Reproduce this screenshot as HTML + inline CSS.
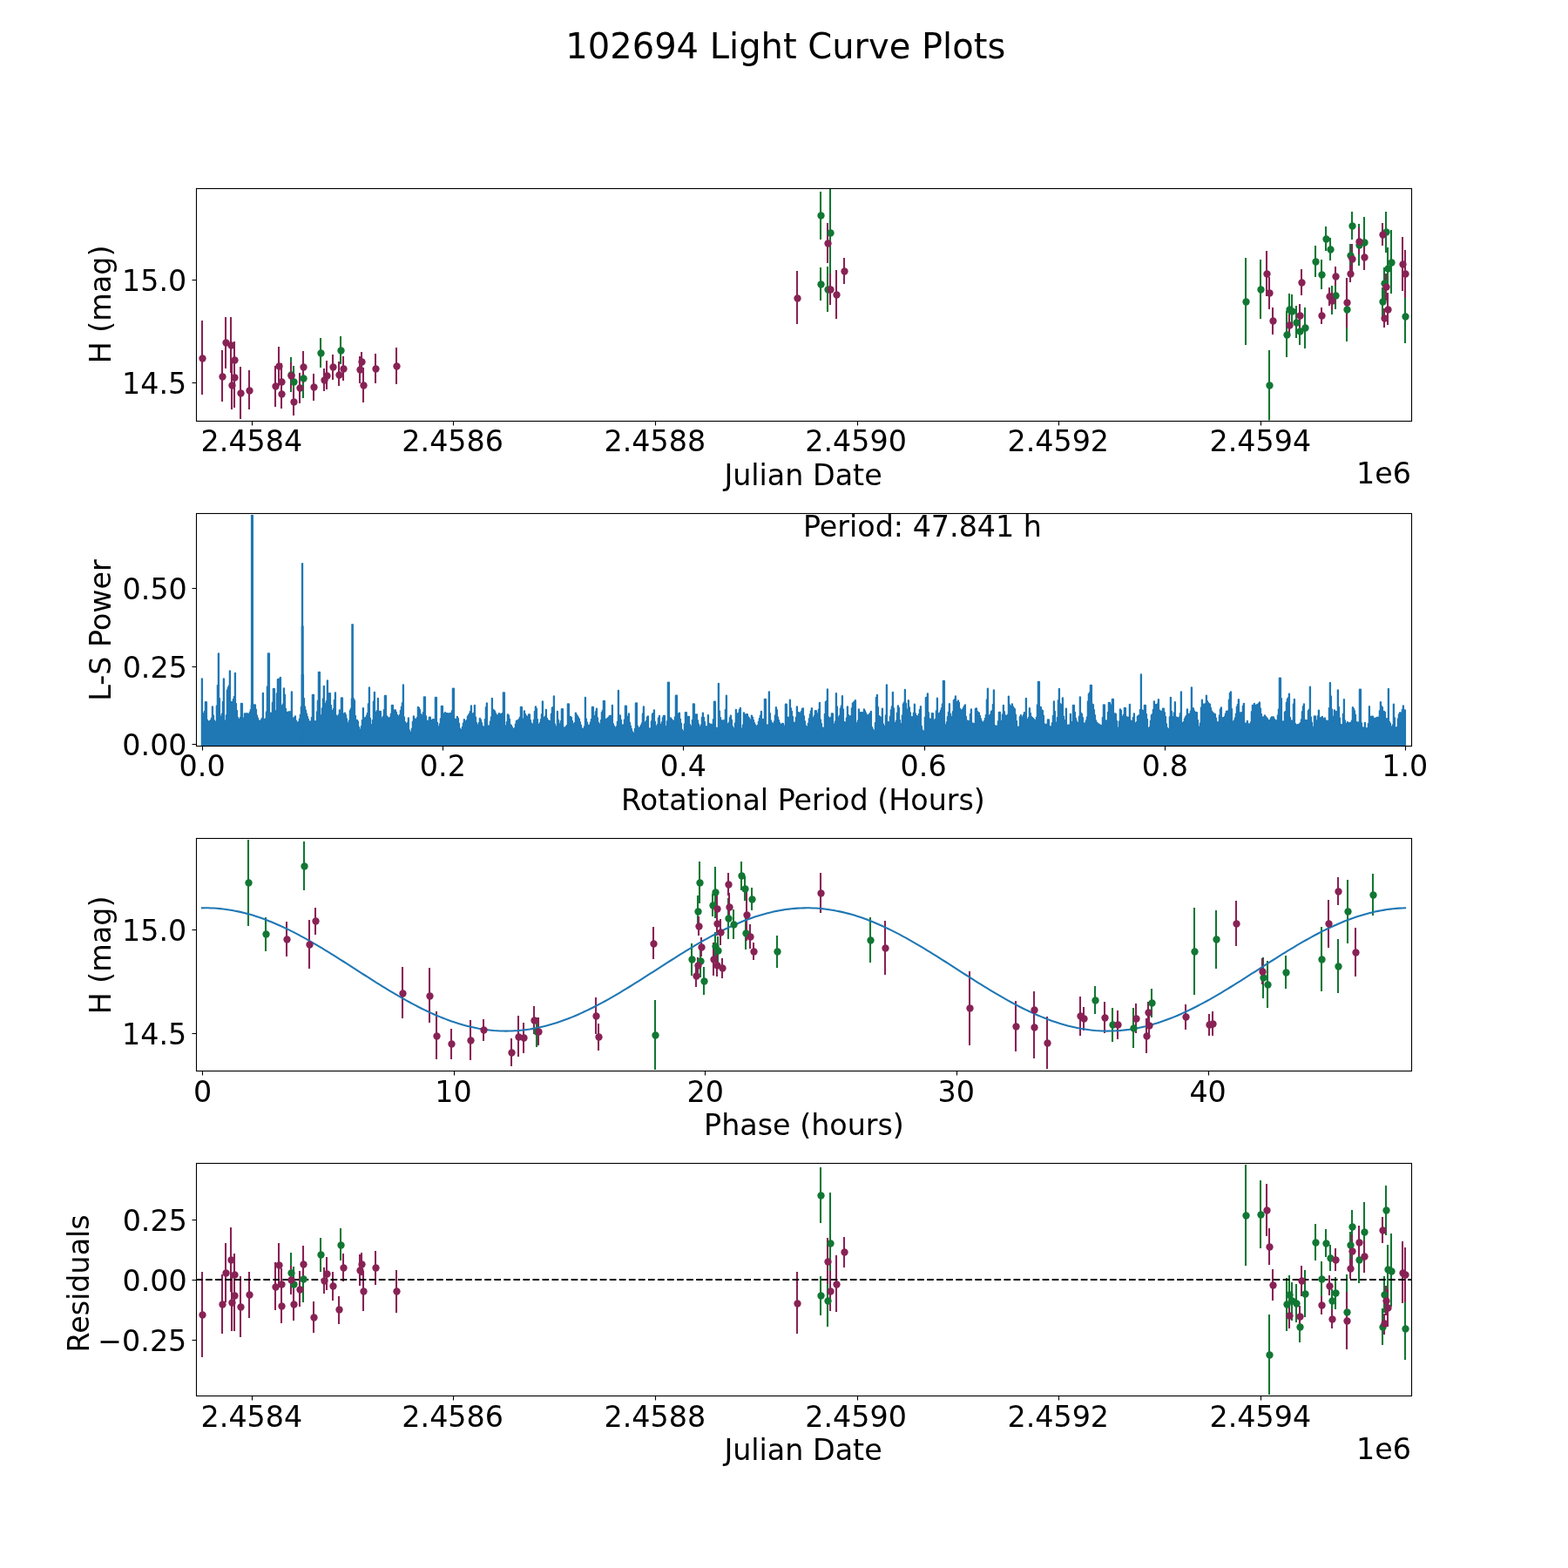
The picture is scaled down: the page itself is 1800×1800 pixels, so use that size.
<!DOCTYPE html>
<html lang="en">
<head>
<meta charset="utf-8">
<title>102694 Light Curve Plots</title>
<style>html,body{margin:0;padding:0;background:#ffffff;}body{width:1800px;height:1800px;overflow:hidden;}svg{display:block;}</style>
</head>
<body>
<svg xmlns="http://www.w3.org/2000/svg" width="1800" height="1800" viewBox="0 0 1800 1800">
<rect x="0" y="0" width="1800" height="1800" fill="#ffffff"/>
<clipPath id="c0"><rect x="225.0" y="216.000" width="1395.0" height="266.538"/></clipPath>
<clipPath id="c1"><rect x="225.0" y="589.077" width="1395.0" height="266.538"/></clipPath>
<clipPath id="c2"><rect x="225.0" y="962.154" width="1395.0" height="266.538"/></clipPath>
<clipPath id="c3"><rect x="225.0" y="1335.231" width="1395.0" height="266.538"/></clipPath>
<text x="901.79" y="67.08" font-family="'DejaVu Sans', 'Liberation Sans', sans-serif" font-size="40.0000px" text-anchor="middle" fill="#000000">102694 Light Curve Plots</text>
<g clip-path="url(#c0)">
<path d="M334.0 410.0V450.0M337.0 420.0V456.0M348.0 412.0V457.0M368.0 388.0V422.0M391.0 386.0V418.0M942.0 220.0V275.0M953.0 213.0V317.0M942.0 307.0V345.0M950.0 306.0V358.0M1430.0 296.0V396.0M1447.0 298.0V366.0M1457.0 402.0V483.0M1477.0 357.0V410.0M1480.0 337.0V373.0M1483.0 338.0V376.0M1488.0 351.0V388.0M1492.0 365.0V396.0M1498.0 353.0V400.0M1510.0 282.0V318.0M1517.0 298.0V332.0M1522.0 260.0V288.0M1527.0 273.0V299.0M1529.0 328.0V361.0M1533.0 324.0V355.0M1546.0 319.0V392.0M1550.0 280.0V305.0M1552.0 243.0V275.0M1560.0 257.0V305.0M1566.0 249.0V308.0M1591.0 243.0V290.0M1597.0 264.0V337.0M1593.0 284.0V333.0M1589.0 307.0V343.0M1587.0 330.0V363.0M1613.0 333.0V394.0" stroke="#117733" stroke-width="2.083" fill="none"/>
<path d="M232.0 368.0V453.0M255.0 402.0V461.0M259.0 364.0V423.0M265.0 364.0V428.0M269.0 392.0V435.0M269.0 399.0V468.0M266.0 415.0V470.0M276.0 421.0V481.0M286.0 425.0V470.0M316.0 420.0V467.0M320.0 398.0V443.0M323.0 417.0V460.0M323.0 437.0V469.0M334.0 416.0V446.0M337.0 446.0V477.0M344.0 428.0V463.0M348.0 403.0V440.0M360.0 429.0V460.0M372.0 423.0V449.0M375.0 414.0V447.0M382.0 407.0V436.0M389.0 415.0V443.0M394.0 409.0V437.0M413.0 409.0V440.0M415.0 404.0V427.0M417.0 422.0V462.0M431.0 406.0V440.0M455.0 399.0V441.0M915.0 311.0V372.0M950.0 256.0V302.0M953.0 314.0V350.0M960.0 310.0V366.0M969.0 296.0V326.0M1454.0 288.0V340.0M1457.0 318.0V355.0M1461.0 353.0V384.0M1480.0 361.0V386.0M1492.0 349.0V376.0M1494.0 309.0V339.0M1517.0 353.0V372.0M1526.0 330.0V351.0M1529.0 335.0V356.0M1533.0 306.0V328.0M1546.0 319.0V376.0M1552.0 280.0V315.0M1550.0 304.0V324.0M1560.0 261.0V292.0M1566.0 282.0V310.0M1587.0 256.0V282.0M1591.0 314.0V345.0M1593.0 336.0V373.0M1589.0 354.0V376.0M1610.0 272.0V334.0M1613.0 287.0V342.0" stroke="#882255" stroke-width="2.083" fill="none"/>
<g fill="#117733"><circle cx="334.5" cy="430.5" r="4.167"/><circle cx="337.5" cy="438.5" r="4.167"/><circle cx="348.5" cy="434.5" r="4.167"/><circle cx="368.5" cy="405.5" r="4.167"/><circle cx="391.5" cy="402.5" r="4.167"/><circle cx="942.5" cy="247.5" r="4.167"/><circle cx="953.5" cy="267.5" r="4.167"/><circle cx="942.5" cy="326.5" r="4.167"/><circle cx="950.5" cy="332.5" r="4.167"/><circle cx="1430.5" cy="346.5" r="4.167"/><circle cx="1447.5" cy="332.5" r="4.167"/><circle cx="1457.5" cy="442.5" r="4.167"/><circle cx="1477.5" cy="384.5" r="4.167"/><circle cx="1480.5" cy="355.5" r="4.167"/><circle cx="1483.5" cy="357.5" r="4.167"/><circle cx="1488.5" cy="370.5" r="4.167"/><circle cx="1492.5" cy="380.5" r="4.167"/><circle cx="1498.5" cy="376.5" r="4.167"/><circle cx="1510.5" cy="300.5" r="4.167"/><circle cx="1517.5" cy="315.5" r="4.167"/><circle cx="1522.5" cy="274.5" r="4.167"/><circle cx="1527.5" cy="286.5" r="4.167"/><circle cx="1529.5" cy="344.5" r="4.167"/><circle cx="1533.5" cy="339.5" r="4.167"/><circle cx="1546.5" cy="355.5" r="4.167"/><circle cx="1550.5" cy="293.5" r="4.167"/><circle cx="1552.5" cy="259.5" r="4.167"/><circle cx="1560.5" cy="281.5" r="4.167"/><circle cx="1566.5" cy="278.5" r="4.167"/><circle cx="1591.5" cy="266.5" r="4.167"/><circle cx="1597.5" cy="301.5" r="4.167"/><circle cx="1593.5" cy="308.5" r="4.167"/><circle cx="1589.5" cy="325.5" r="4.167"/><circle cx="1587.5" cy="346.5" r="4.167"/><circle cx="1613.5" cy="363.5" r="4.167"/></g>
<g fill="#882255"><circle cx="232.5" cy="411.5" r="4.167"/><circle cx="255.5" cy="432.5" r="4.167"/><circle cx="259.5" cy="393.5" r="4.167"/><circle cx="265.5" cy="396.5" r="4.167"/><circle cx="269.5" cy="413.5" r="4.167"/><circle cx="269.5" cy="433.5" r="4.167"/><circle cx="266.5" cy="442.5" r="4.167"/><circle cx="276.5" cy="451.5" r="4.167"/><circle cx="286.5" cy="448.5" r="4.167"/><circle cx="316.5" cy="443.5" r="4.167"/><circle cx="320.5" cy="420.5" r="4.167"/><circle cx="323.5" cy="438.5" r="4.167"/><circle cx="323.5" cy="452.5" r="4.167"/><circle cx="334.5" cy="431.5" r="4.167"/><circle cx="337.5" cy="461.5" r="4.167"/><circle cx="344.5" cy="445.5" r="4.167"/><circle cx="348.5" cy="421.5" r="4.167"/><circle cx="360.5" cy="444.5" r="4.167"/><circle cx="372.5" cy="436.5" r="4.167"/><circle cx="375.5" cy="431.5" r="4.167"/><circle cx="382.5" cy="421.5" r="4.167"/><circle cx="389.5" cy="430.5" r="4.167"/><circle cx="394.5" cy="423.5" r="4.167"/><circle cx="413.5" cy="424.5" r="4.167"/><circle cx="415.5" cy="415.5" r="4.167"/><circle cx="417.5" cy="442.5" r="4.167"/><circle cx="431.5" cy="423.5" r="4.167"/><circle cx="455.5" cy="420.5" r="4.167"/><circle cx="915.5" cy="342.5" r="4.167"/><circle cx="950.5" cy="279.5" r="4.167"/><circle cx="953.5" cy="332.5" r="4.167"/><circle cx="960.5" cy="338.5" r="4.167"/><circle cx="969.5" cy="311.5" r="4.167"/><circle cx="1454.5" cy="314.5" r="4.167"/><circle cx="1457.5" cy="336.5" r="4.167"/><circle cx="1461.5" cy="368.5" r="4.167"/><circle cx="1480.5" cy="373.5" r="4.167"/><circle cx="1492.5" cy="362.5" r="4.167"/><circle cx="1494.5" cy="324.5" r="4.167"/><circle cx="1517.5" cy="362.5" r="4.167"/><circle cx="1526.5" cy="340.5" r="4.167"/><circle cx="1529.5" cy="345.5" r="4.167"/><circle cx="1533.5" cy="317.5" r="4.167"/><circle cx="1546.5" cy="347.5" r="4.167"/><circle cx="1552.5" cy="297.5" r="4.167"/><circle cx="1550.5" cy="314.5" r="4.167"/><circle cx="1560.5" cy="277.5" r="4.167"/><circle cx="1566.5" cy="295.5" r="4.167"/><circle cx="1587.5" cy="269.5" r="4.167"/><circle cx="1591.5" cy="329.5" r="4.167"/><circle cx="1593.5" cy="355.5" r="4.167"/><circle cx="1589.5" cy="365.5" r="4.167"/><circle cx="1610.5" cy="303.5" r="4.167"/><circle cx="1613.5" cy="314.5" r="4.167"/></g>
</g>
<path d="M289.5 483.50V488.50M520.5 483.50V488.50M752.5 483.50V488.50M984.5 483.50V488.50M1215.5 483.50V488.50M1447.5 483.50V488.50M225.50 321.5H220.50M225.50 439.5H220.50" stroke="#000000" stroke-width="1.111" fill="none"/>
<path d="M225.5 215.95V484.05M1620.5 215.95V484.05M224.95 216.5H1621.05M224.95 483.5H1621.05" stroke="#000000" stroke-width="1.111" fill="none"/>
<path d="M221.00 320.5H225.00M221.00 322.5H225.00M221.00 438.5H225.00M221.00 440.5H225.00M225.00 215.5H1621.00M226.00 217.5H1620.00M226.00 482.5H1620.00M225.00 484.5H1621.00" stroke="#000000" stroke-opacity="0.056" stroke-width="1" fill="none"/>
<text x="288.92" y="517.55" font-family="'DejaVu Sans', 'Liberation Sans', sans-serif" font-size="33.3333px" text-anchor="middle" fill="#000000">2.4584</text>
<text x="519.67" y="517.55" font-family="'DejaVu Sans', 'Liberation Sans', sans-serif" font-size="33.3333px" text-anchor="middle" fill="#000000">2.4586</text>
<text x="751.86" y="517.52" font-family="'DejaVu Sans', 'Liberation Sans', sans-serif" font-size="33.3333px" text-anchor="middle" fill="#000000">2.4588</text>
<text x="982.64" y="517.56" font-family="'DejaVu Sans', 'Liberation Sans', sans-serif" font-size="33.3333px" text-anchor="middle" fill="#000000">2.4590</text>
<text x="1214.78" y="518.13" font-family="'DejaVu Sans', 'Liberation Sans', sans-serif" font-size="33.3333px" text-anchor="middle" fill="#000000">2.4592</text>
<text x="1446.83" y="517.57" font-family="'DejaVu Sans', 'Liberation Sans', sans-serif" font-size="33.3333px" text-anchor="middle" fill="#000000">2.4594</text>
<text x="214.33" y="334.02" font-family="'DejaVu Sans', 'Liberation Sans', sans-serif" font-size="33.3333px" text-anchor="end" fill="#000000">15.0</text>
<text x="214.34" y="452.13" font-family="'DejaVu Sans', 'Liberation Sans', sans-serif" font-size="33.3333px" text-anchor="end" fill="#000000">14.5</text>
<text x="922.02" y="556.74" font-family="'DejaVu Sans', 'Liberation Sans', sans-serif" font-size="33.3333px" text-anchor="middle" fill="#000000">Julian Date</text>
<text x="127.21" y="349.43" font-family="'DejaVu Sans', 'Liberation Sans', sans-serif" font-size="33.3333px" text-anchor="middle" fill="#000000" transform="rotate(-90 127.21 349.43)">H (mag)</text>
<text x="1620.00" y="554.73" font-family="'DejaVu Sans', 'Liberation Sans', sans-serif" font-size="33.3333px" text-anchor="end" fill="#000000">1e6</text>
<clipPath id="c1b"><rect x="225.0" y="589.077" width="1395.0" height="267.138"/></clipPath>
<g clip-path="url(#c1b)">
<path d="M231.9 779.5V856.3M232.9 819.2V856.3M233.9 819.2V856.3M234.9 817.0V856.3M235.9 806.2V856.3M236.9 806.2V856.3M237.9 826.6V856.3M238.9 828.5V856.3M239.9 828.5V856.3M240.9 827.9V856.3M241.9 826.9V856.3M242.9 824.6V856.3M243.9 811.5V856.3M244.9 821.5V856.3M245.9 827.2V856.3M246.9 828.6V856.3M247.9 828.6V856.3M248.9 810.3V856.3M249.9 786.8V856.3M250.9 750.3V856.3M251.9 802.0V856.3M252.9 822.4V856.3M253.9 822.4V856.3M254.9 819.6V856.3M255.9 805.9V856.3M256.9 779.5V856.3M257.9 827.3V856.3M258.9 827.3V856.3M259.9 821.1V856.3M260.9 792.4V856.3M261.9 789.5V856.3M262.9 787.3V856.3M263.9 770.3V856.3M264.9 806.0V856.3M265.9 806.0V856.3M266.9 806.0V856.3M267.9 802.9V856.3M268.9 799.8V856.3M269.9 772.8V856.3M270.9 808.0V856.3M271.9 816.0V856.3M272.9 824.0V856.3M273.9 826.0V856.3M274.9 826.0V856.3M275.9 824.0V856.3M276.9 807.8V856.3M277.9 807.8V856.3M278.9 824.3V856.3M279.9 824.3V856.3M280.9 819.5V856.3M281.9 819.5V856.3M282.9 819.5V856.3M283.9 819.5V856.3M284.9 819.9V856.3M285.9 819.9V856.3M286.9 817.7V856.3M287.9 814.8V856.3M288.9 809.5V856.3M289.9 809.5V856.3M290.9 809.5V856.3M291.9 809.5V856.3M292.9 809.5V856.3M293.9 814.6V856.3M294.9 821.4V856.3M295.9 824.5V856.3M296.9 827.5V856.3M297.9 827.6V856.3M298.9 827.6V856.3M299.9 826.3V856.3M300.9 824.7V856.3M301.9 795.8V856.3M302.9 825.8V856.3M303.9 825.8V856.3M304.9 825.3V856.3M305.9 817.5V856.3M306.9 788.5V856.3M307.9 750.3V856.3M308.9 750.3V856.3M309.9 818.7V856.3M310.9 818.7V856.3M311.9 818.7V856.3M312.9 806.7V856.3M313.9 790.8V856.3M314.9 790.8V856.3M315.9 816.1V856.3M316.9 816.1V856.3M317.9 796.2V856.3M318.9 780.2V856.3M319.9 779.9V856.3M320.9 779.5V856.3M321.9 777.8V856.3M322.9 810.1V856.3M323.9 810.1V856.3M324.9 808.5V856.3M325.9 790.3V856.3M326.9 797.6V856.3M327.9 813.6V856.3M328.9 817.8V856.3M329.9 817.8V856.3M330.9 817.7V856.3M331.9 817.5V856.3M332.9 817.3V856.3M333.9 817.1V856.3M334.9 794.5V856.3M335.9 824.3V856.3M336.9 824.3V856.3M337.9 824.1V856.3M338.9 822.5V856.3M339.9 827.4V856.3M340.9 829.5V856.3M341.9 829.5V856.3M342.9 828.7V856.3M343.9 825.4V856.3M344.9 820.7V856.3M345.9 811.7V856.3M346.9 774.8V856.3M347.9 774.8V856.3M348.9 801.8V856.3M349.9 811.4V856.3M350.9 815.4V856.3M351.9 819.4V856.3M352.9 822.9V856.3M353.9 825.9V856.3M354.9 828.4V856.3M355.9 828.4V856.3M356.9 828.4V856.3M357.9 823.9V856.3M358.9 797.8V856.3M359.9 797.8V856.3M360.9 828.2V856.3M361.9 828.2V856.3M362.9 828.2V856.3M363.9 817.4V856.3M364.9 804.7V856.3M365.9 772.0V856.3M366.9 772.0V856.3M367.9 821.2V856.3M368.9 821.2V856.3M369.9 813.1V856.3M370.9 802.3V856.3M371.9 787.8V856.3M372.9 807.6V856.3M373.9 807.6V856.3M374.9 805.0V856.3M375.9 781.5V856.3M376.9 796.2V856.3M377.9 796.2V856.3M378.9 796.2V856.3M379.9 810.0V856.3M380.9 816.0V856.3M381.9 816.0V856.3M382.9 813.8V856.3M383.9 803.8V856.3M384.9 795.3V856.3M385.9 821.5V856.3M386.9 822.5V856.3M387.9 822.5V856.3M388.9 820.6V856.3M389.9 815.3V856.3M390.9 815.3V856.3M391.9 801.5V856.3M392.9 801.5V856.3M393.9 819.3V856.3M394.9 819.3V856.3M395.9 818.7V856.3M396.9 820.7V856.3M397.9 825.1V856.3M398.9 830.2V856.3M399.9 830.2V856.3M400.9 827.5V856.3M401.9 816.0V856.3M402.9 813.7V856.3M403.9 802.3V856.3M404.9 802.3V856.3M405.9 802.3V856.3M406.9 804.3V856.3M407.9 821.9V856.3M408.9 827.0V856.3M409.9 827.0V856.3M410.9 828.5V856.3M411.9 835.0V856.3M412.9 837.4V856.3M413.9 837.4V856.3M414.9 833.9V856.3M415.9 826.9V856.3M416.9 813.2V856.3M417.9 824.4V856.3M418.9 824.4V856.3M419.9 824.0V856.3M420.9 821.7V856.3M421.9 818.8V856.3M422.9 808.2V856.3M423.9 789.5V856.3M424.9 824.7V856.3M425.9 831.9V856.3M426.9 831.9V856.3M427.9 827.0V856.3M428.9 805.5V856.3M429.9 794.8V856.3M430.9 817.7V856.3M431.9 817.7V856.3M432.9 816.0V856.3M433.9 802.0V856.3M434.9 817.0V856.3M435.9 817.0V856.3M436.9 817.0V856.3M437.9 824.4V856.3M438.9 824.4V856.3M439.9 822.7V856.3M440.9 815.0V856.3M441.9 799.0V856.3M442.9 799.0V856.3M443.9 822.2V856.3M444.9 823.5V856.3M445.9 824.5V856.3M446.9 824.5V856.3M447.9 823.6V856.3M448.9 819.6V856.3M449.9 809.8V856.3M450.9 809.8V856.3M451.9 815.3V856.3M452.9 815.3V856.3M453.9 815.3V856.3M454.9 818.0V856.3M455.9 821.0V856.3M456.9 822.5V856.3M457.9 822.5V856.3M458.9 820.8V856.3M459.9 815.8V856.3M460.9 811.6V856.3M461.9 807.1V856.3M462.9 786.5V856.3M463.9 823.4V856.3M464.9 828.8V856.3M465.9 831.0V856.3M466.9 831.0V856.3M467.9 829.7V856.3M468.9 824.5V856.3M469.9 838.3V856.3M470.9 840.6V856.3M471.9 840.6V856.3M472.9 836.6V856.3M473.9 828.6V856.3M474.9 822.3V856.3M475.9 825.3V856.3M476.9 826.0V856.3M477.9 826.0V856.3M478.9 823.9V856.3M479.9 812.0V856.3M480.9 812.6V856.3M481.9 814.8V856.3M482.9 819.8V856.3M483.9 821.1V856.3M484.9 821.1V856.3M485.9 818.2V856.3M486.9 800.3V856.3M487.9 800.3V856.3M488.9 822.2V856.3M489.9 827.7V856.3M490.9 827.7V856.3M491.9 827.7V856.3M492.9 823.7V856.3M493.9 823.7V856.3M494.9 826.8V856.3M495.9 826.8V856.3M496.9 826.2V856.3M497.9 826.2V856.3M498.9 826.2V856.3M499.9 800.8V856.3M500.9 800.8V856.3M501.9 829.6V856.3M502.9 834.1V856.3M503.9 834.1V856.3M504.9 831.1V856.3M505.9 825.1V856.3M506.9 810.8V856.3M507.9 810.8V856.3M508.9 819.4V856.3M509.9 819.4V856.3M510.9 818.2V856.3M511.9 818.8V856.3M512.9 819.2V856.3M513.9 819.5V856.3M514.9 819.5V856.3M515.9 819.5V856.3M516.9 819.2V856.3M517.9 818.9V856.3M518.9 816.1V856.3M519.9 790.7V856.3M520.9 790.7V856.3M521.9 825.6V856.3M522.9 825.9V856.3M523.9 825.9V856.3M524.9 822.8V856.3M525.9 825.0V856.3M526.9 830.7V856.3M527.9 836.3V856.3M528.9 837.7V856.3M529.9 837.7V856.3M530.9 834.7V856.3M531.9 830.3V856.3M532.9 826.2V856.3M533.9 828.2V856.3M534.9 828.2V856.3M535.9 827.0V856.3M536.9 822.7V856.3M537.9 821.1V856.3M538.9 819.4V856.3M539.9 816.8V856.3M540.9 810.3V856.3M541.9 819.4V856.3M542.9 819.4V856.3M543.9 818.6V856.3M544.9 809.8V856.3M545.9 823.3V856.3M546.9 830.0V856.3M547.9 832.5V856.3M548.9 832.5V856.3M549.9 830.0V856.3M550.9 825.0V856.3M551.9 826.4V856.3M552.9 830.0V856.3M553.9 833.7V856.3M554.9 834.7V856.3M555.9 834.7V856.3M556.9 825.8V856.3M557.9 812.2V856.3M558.9 807.3V856.3M559.9 833.3V856.3M560.9 833.3V856.3M561.9 833.3V856.3M562.9 828.3V856.3M563.9 823.3V856.3M564.9 802.0V856.3M565.9 814.7V856.3M566.9 815.3V856.3M567.9 816.4V856.3M568.9 818.9V856.3M569.9 821.1V856.3M570.9 821.1V856.3M571.9 821.1V856.3M572.9 819.2V856.3M573.9 819.8V856.3M574.9 819.8V856.3M575.9 819.8V856.3M576.9 818.9V856.3M577.9 795.3V856.3M578.9 795.3V856.3M579.9 833.1V856.3M580.9 833.1V856.3M581.9 828.9V856.3M582.9 820.4V856.3M583.9 821.3V856.3M584.9 825.7V856.3M585.9 832.2V856.3M586.9 832.8V856.3M587.9 834.9V856.3M588.9 837.0V856.3M589.9 837.0V856.3M590.9 835.9V856.3M591.9 831.4V856.3M592.9 827.8V856.3M593.9 827.4V856.3M594.9 827.1V856.3M595.9 825.6V856.3M596.9 823.7V856.3M597.9 812.0V856.3M598.9 812.0V856.3M599.9 825.5V856.3M600.9 825.5V856.3M601.9 816.5V856.3M602.9 820.0V856.3M603.9 822.0V856.3M604.9 822.8V856.3M605.9 822.8V856.3M606.9 820.3V856.3M607.9 820.3V856.3M608.9 827.0V856.3M609.9 830.5V856.3M610.9 831.4V856.3M611.9 831.4V856.3M612.9 826.6V856.3M613.9 817.0V856.3M614.9 811.5V856.3M615.9 813.6V856.3M616.9 826.0V856.3M617.9 831.8V856.3M618.9 831.8V856.3M619.9 829.9V856.3M620.9 826.1V856.3M621.9 820.2V856.3M622.9 805.3V856.3M623.9 823.8V856.3M624.9 823.8V856.3M625.9 822.5V856.3M626.9 814.8V856.3M627.9 824.8V856.3M628.9 826.8V856.3M629.9 827.6V856.3M630.9 827.8V856.3M631.9 827.8V856.3M632.9 819.6V856.3M633.9 812.6V856.3M634.9 812.1V856.3M635.9 799.5V856.3M636.9 831.3V856.3M637.9 834.1V856.3M638.9 834.1V856.3M639.9 817.0V856.3M640.9 826.6V856.3M641.9 831.1V856.3M642.9 831.1V856.3M643.9 828.0V856.3M644.9 814.2V856.3M645.9 814.2V856.3M646.9 835.3V856.3M647.9 835.3V856.3M648.9 835.3V856.3M649.9 834.1V856.3M650.9 833.0V856.3M651.9 808.3V856.3M652.9 808.3V856.3M653.9 822.8V856.3M654.9 822.8V856.3M655.9 823.8V856.3M656.9 828.0V856.3M657.9 831.1V856.3M658.9 831.1V856.3M659.9 829.8V856.3M660.9 818.7V856.3M661.9 820.7V856.3M662.9 822.1V856.3M663.9 823.8V856.3M664.9 825.6V856.3M665.9 829.1V856.3M666.9 832.6V856.3M667.9 836.1V856.3M668.9 837.0V856.3M669.9 837.0V856.3M670.9 834.4V856.3M671.9 800.8V856.3M672.9 825.4V856.3M673.9 829.3V856.3M674.9 832.6V856.3M675.9 832.6V856.3M676.9 832.6V856.3M677.9 829.3V856.3M678.9 826.0V856.3M679.9 812.0V856.3M680.9 812.0V856.3M681.9 821.9V856.3M682.9 821.9V856.3M683.9 817.2V856.3M684.9 813.7V856.3M685.9 824.2V856.3M686.9 829.7V856.3M687.9 831.4V856.3M688.9 831.4V856.3M689.9 826.9V856.3M690.9 817.9V856.3M691.9 815.7V856.3M692.9 805.0V856.3M693.9 805.0V856.3M694.9 826.0V856.3M695.9 826.0V856.3M696.9 825.3V856.3M697.9 824.3V856.3M698.9 823.4V856.3M699.9 822.0V856.3M700.9 822.0V856.3M701.9 822.0V856.3M702.9 810.0V856.3M703.9 831.2V856.3M704.9 833.6V856.3M705.9 835.3V856.3M706.9 835.3V856.3M707.9 834.1V856.3M708.9 828.6V856.3M709.9 792.8V856.3M710.9 821.3V856.3M711.9 821.5V856.3M712.9 826.6V856.3M713.9 832.3V856.3M714.9 832.3V856.3M715.9 832.3V856.3M716.9 826.5V856.3M717.9 810.7V856.3M718.9 810.7V856.3M719.9 822.6V856.3M720.9 822.6V856.3M721.9 819.5V856.3M722.9 829.7V856.3M723.9 833.6V856.3M724.9 836.8V856.3M725.9 840.1V856.3M726.9 841.7V856.3M727.9 841.7V856.3M728.9 837.0V856.3M729.9 807.5V856.3M730.9 807.5V856.3M731.9 833.6V856.3M732.9 836.0V856.3M733.9 836.0V856.3M734.9 835.0V856.3M735.9 833.0V856.3M736.9 830.4V856.3M737.9 819.4V856.3M738.9 811.5V856.3M739.9 829.4V856.3M740.9 829.4V856.3M741.9 828.0V856.3M742.9 823.5V856.3M743.9 822.5V856.3M744.9 836.5V856.3M745.9 836.5V856.3M746.9 836.5V856.3M747.9 828.2V856.3M748.9 820.0V856.3M749.9 818.8V856.3M750.9 815.3V856.3M751.9 828.7V856.3M752.9 833.6V856.3M753.9 833.6V856.3M754.9 831.9V856.3M755.9 824.4V856.3M756.9 822.0V856.3M757.9 831.7V856.3M758.9 831.7V856.3M759.9 829.2V856.3M760.9 824.2V856.3M761.9 822.0V856.3M762.9 822.0V856.3M763.9 833.9V856.3M764.9 833.9V856.3M765.9 828.1V856.3M766.9 783.7V856.3M767.9 783.7V856.3M768.9 824.4V856.3M769.9 824.4V856.3M770.9 825.6V856.3M771.9 827.2V856.3M772.9 827.6V856.3M773.9 827.6V856.3M774.9 823.3V856.3M775.9 798.7V856.3M776.9 798.7V856.3M777.9 819.4V856.3M778.9 819.4V856.3M779.9 818.7V856.3M780.9 825.6V856.3M781.9 830.6V856.3M782.9 837.6V856.3M783.9 839.4V856.3M784.9 839.4V856.3M785.9 831.4V856.3M786.9 818.2V856.3M787.9 818.2V856.3M788.9 822.8V856.3M789.9 822.8V856.3M790.9 822.8V856.3M791.9 831.9V856.3M792.9 833.6V856.3M793.9 833.6V856.3M794.9 826.6V856.3M795.9 808.3V856.3M796.9 808.3V856.3M797.9 820.3V856.3M798.9 820.3V856.3M799.9 820.3V856.3M800.9 827.1V856.3M801.9 831.3V856.3M802.9 834.4V856.3M803.9 834.4V856.3M804.9 832.5V856.3M805.9 823.7V856.3M806.9 818.7V856.3M807.9 823.8V856.3M808.9 828.9V856.3M809.9 834.1V856.3M810.9 834.1V856.3M811.9 834.1V856.3M812.9 821.2V856.3M813.9 830.7V856.3M814.9 831.5V856.3M815.9 831.8V856.3M816.9 832.0V856.3M817.9 832.0V856.3M818.9 826.2V856.3M819.9 805.7V856.3M820.9 805.7V856.3M821.9 835.7V856.3M822.9 836.0V856.3M823.9 836.0V856.3M824.9 784.8V856.3M825.9 816.3V856.3M826.9 823.8V856.3M827.9 827.1V856.3M828.9 827.3V856.3M829.9 827.5V856.3M830.9 827.5V856.3M831.9 826.7V856.3M832.9 814.9V856.3M833.9 798.7V856.3M834.9 831.1V856.3M835.9 831.1V856.3M836.9 829.7V856.3M837.9 824.2V856.3M838.9 821.7V856.3M839.9 826.7V856.3M840.9 834.2V856.3M841.9 836.1V856.3M842.9 836.1V856.3M843.9 830.5V856.3M844.9 815.0V856.3M845.9 819.5V856.3M846.9 819.5V856.3M847.9 818.6V856.3M848.9 814.9V856.3M849.9 812.8V856.3M850.9 836.5V856.3M851.9 836.5V856.3M852.9 832.5V856.3M853.9 818.3V856.3M854.9 820.5V856.3M855.9 820.5V856.3M856.9 820.5V856.3M857.9 820.1V856.3M858.9 823.2V856.3M859.9 824.3V856.3M860.9 826.5V856.3M861.9 826.5V856.3M862.9 821.7V856.3M863.9 823.6V856.3M864.9 826.8V856.3M865.9 830.0V856.3M866.9 832.1V856.3M867.9 833.6V856.3M868.9 833.6V856.3M869.9 832.7V856.3M870.9 828.7V856.3M871.9 825.0V856.3M872.9 821.6V856.3M873.9 817.0V856.3M874.9 826.0V856.3M875.9 826.0V856.3M876.9 826.0V856.3M877.9 802.8V856.3M878.9 802.8V856.3M879.9 832.4V856.3M880.9 832.4V856.3M881.9 832.4V856.3M882.9 794.5V856.3M883.9 819.1V856.3M884.9 827.2V856.3M885.9 829.7V856.3M886.9 830.9V856.3M887.9 830.9V856.3M888.9 828.4V856.3M889.9 821.4V856.3M890.9 812.2V856.3M891.9 815.1V856.3M892.9 823.3V856.3M893.9 826.9V856.3M894.9 829.8V856.3M895.9 832.0V856.3M896.9 832.0V856.3M897.9 830.8V856.3M898.9 830.8V856.3M899.9 833.4V856.3M900.9 833.4V856.3M901.9 808.7V856.3M902.9 808.7V856.3M903.9 823.7V856.3M904.9 823.7V856.3M905.9 823.7V856.3M906.9 803.7V856.3M907.9 813.2V856.3M908.9 816.7V856.3M909.9 823.0V856.3M910.9 829.7V856.3M911.9 829.7V856.3M912.9 829.7V856.3M913.9 823.6V856.3M914.9 811.5V856.3M915.9 818.0V856.3M916.9 818.5V856.3M917.9 818.6V856.3M918.9 818.6V856.3M919.9 816.9V856.3M920.9 813.9V856.3M921.9 813.4V856.3M922.9 822.2V856.3M923.9 828.2V856.3M924.9 833.2V856.3M925.9 834.4V856.3M926.9 834.4V856.3M927.9 830.6V856.3M928.9 825.2V856.3M929.9 820.5V856.3M930.9 816.3V856.3M931.9 813.2V856.3M932.9 824.2V856.3M933.9 824.2V856.3M934.9 822.0V856.3M935.9 816.2V856.3M936.9 816.2V856.3M937.9 819.2V856.3M938.9 819.2V856.3M939.9 814.6V856.3M940.9 807.0V856.3M941.9 826.4V856.3M942.9 831.0V856.3M943.9 835.7V856.3M944.9 835.7V856.3M945.9 835.7V856.3M946.9 820.0V856.3M947.9 805.9V856.3M948.9 804.9V856.3M949.9 791.5V856.3M950.9 823.2V856.3M951.9 824.3V856.3M952.9 824.3V856.3M953.9 823.7V856.3M954.9 819.5V856.3M955.9 819.5V856.3M956.9 831.4V856.3M957.9 831.4V856.3M958.9 828.3V856.3M959.9 796.2V856.3M960.9 811.5V856.3M961.9 823.4V856.3M962.9 823.4V856.3M963.9 821.7V856.3M964.9 813.4V856.3M965.9 810.4V856.3M966.9 799.2V856.3M967.9 814.5V856.3M968.9 828.9V856.3M969.9 829.4V856.3M970.9 829.4V856.3M971.9 824.5V856.3M972.9 811.5V856.3M973.9 821.0V856.3M974.9 822.5V856.3M975.9 822.5V856.3M976.9 822.2V856.3M977.9 813.2V856.3M978.9 807.4V856.3M979.9 806.4V856.3M980.9 805.4V856.3M981.9 804.2V856.3M982.9 830.2V856.3M983.9 830.2V856.3M984.9 827.4V856.3M985.9 814.5V856.3M986.9 818.2V856.3M987.9 818.2V856.3M988.9 818.2V856.3M989.9 818.2V856.3M990.9 818.2V856.3M991.9 814.5V856.3M992.9 816.2V856.3M993.9 818.6V856.3M994.9 821.1V856.3M995.9 821.1V856.3M996.9 821.1V856.3M997.9 820.1V856.3M998.9 819.0V856.3M999.9 817.0V856.3M1000.9 835.0V856.3M1001.9 837.1V856.3M1002.9 838.6V856.3M1003.9 838.6V856.3M1004.9 829.9V856.3M1005.9 800.8V856.3M1006.9 798.0V856.3M1007.9 812.0V856.3M1008.9 821.9V856.3M1009.9 823.0V856.3M1010.9 823.7V856.3M1011.9 823.7V856.3M1012.9 813.7V856.3M1013.9 831.3V856.3M1014.9 833.7V856.3M1015.9 833.7V856.3M1016.9 821.5V856.3M1017.9 786.5V856.3M1018.9 828.8V856.3M1019.9 829.1V856.3M1020.9 829.1V856.3M1021.9 822.7V856.3M1022.9 815.2V856.3M1023.9 811.2V856.3M1024.9 794.8V856.3M1025.9 813.2V856.3M1026.9 829.8V856.3M1027.9 829.8V856.3M1028.9 827.6V856.3M1029.9 818.6V856.3M1030.9 810.3V856.3M1031.9 812.7V856.3M1032.9 827.0V856.3M1033.9 830.9V856.3M1034.9 830.9V856.3M1035.9 821.3V856.3M1036.9 808.5V856.3M1037.9 806.5V856.3M1038.9 792.0V856.3M1039.9 807.7V856.3M1040.9 814.3V856.3M1041.9 814.3V856.3M1042.9 804.2V856.3M1043.9 812.2V856.3M1044.9 818.2V856.3M1045.9 823.2V856.3M1046.9 823.2V856.3M1047.9 823.2V856.3M1048.9 818.7V856.3M1049.9 808.7V856.3M1050.9 819.3V856.3M1051.9 821.8V856.3M1052.9 822.5V856.3M1053.9 822.5V856.3M1054.9 820.0V856.3M1055.9 815.0V856.3M1056.9 811.2V856.3M1057.9 833.8V856.3M1058.9 838.4V856.3M1059.9 839.5V856.3M1060.9 839.5V856.3M1061.9 823.7V856.3M1062.9 801.1V856.3M1063.9 800.6V856.3M1064.9 796.5V856.3M1065.9 818.1V856.3M1066.9 825.5V856.3M1067.9 825.7V856.3M1068.9 825.7V856.3M1069.9 819.2V856.3M1070.9 819.2V856.3M1071.9 826.6V856.3M1072.9 826.6V856.3M1073.9 825.6V856.3M1074.9 816.2V856.3M1075.9 801.7V856.3M1076.9 819.1V856.3M1077.9 819.1V856.3M1078.9 818.4V856.3M1079.9 815.8V856.3M1080.9 813.1V856.3M1081.9 808.3V856.3M1082.9 782.0V856.3M1083.9 782.0V856.3M1084.9 832.1V856.3M1085.9 832.1V856.3M1086.9 829.1V856.3M1087.9 823.1V856.3M1088.9 817.7V856.3M1089.9 808.2V856.3M1090.9 819.6V856.3M1091.9 823.0V856.3M1092.9 823.0V856.3M1093.9 817.1V856.3M1094.9 804.2V856.3M1095.9 803.0V856.3M1096.9 799.5V856.3M1097.9 805.9V856.3M1098.9 805.9V856.3M1099.9 804.3V856.3M1100.9 806.6V856.3M1101.9 813.7V856.3M1102.9 815.3V856.3M1103.9 815.3V856.3M1104.9 814.9V856.3M1105.9 812.8V856.3M1106.9 810.8V856.3M1107.9 809.5V856.3M1108.9 822.8V856.3M1109.9 827.1V856.3M1110.9 827.8V856.3M1111.9 827.8V856.3M1112.9 827.8V856.3M1113.9 820.0V856.3M1114.9 814.5V856.3M1115.9 830.5V856.3M1116.9 830.7V856.3M1117.9 830.8V856.3M1118.9 830.8V856.3M1119.9 814.0V856.3M1120.9 813.3V856.3M1121.9 816.8V856.3M1122.9 818.1V856.3M1123.9 818.6V856.3M1124.9 821.8V856.3M1125.9 825.2V856.3M1126.9 828.2V856.3M1127.9 829.3V856.3M1128.9 829.3V856.3M1129.9 827.8V856.3M1130.9 824.8V856.3M1131.9 820.8V856.3M1132.9 803.3V856.3M1133.9 790.7V856.3M1134.9 821.5V856.3M1135.9 821.5V856.3M1136.9 820.4V856.3M1137.9 816.9V856.3M1138.9 816.2V856.3M1139.9 809.0V856.3M1140.9 792.5V856.3M1141.9 833.1V856.3M1142.9 833.6V856.3M1143.9 833.7V856.3M1144.9 833.7V856.3M1145.9 828.2V856.3M1146.9 817.8V856.3M1147.9 817.8V856.3M1148.9 827.7V856.3M1149.9 827.7V856.3M1150.9 820.5V856.3M1151.9 809.8V856.3M1152.9 817.1V856.3M1153.9 821.5V856.3M1154.9 821.9V856.3M1155.9 821.9V856.3M1156.9 820.6V856.3M1157.9 799.6V856.3M1158.9 809.1V856.3M1159.9 810.7V856.3M1160.9 810.7V856.3M1161.9 808.5V856.3M1162.9 811.4V856.3M1163.9 813.2V856.3M1164.9 814.1V856.3M1165.9 820.6V856.3M1166.9 827.8V856.3M1167.9 834.6V856.3M1168.9 834.6V856.3M1169.9 834.6V856.3M1170.9 823.1V856.3M1171.9 821.2V856.3M1172.9 823.4V856.3M1173.9 823.4V856.3M1174.9 821.2V856.3M1175.9 818.1V856.3M1176.9 818.1V856.3M1177.9 802.0V856.3M1178.9 825.9V856.3M1179.9 825.9V856.3M1180.9 824.0V856.3M1181.9 813.2V856.3M1182.9 819.0V856.3M1183.9 823.0V856.3M1184.9 823.9V856.3M1185.9 824.8V856.3M1186.9 826.0V856.3M1187.9 827.0V856.3M1188.9 827.0V856.3M1189.9 823.7V856.3M1190.9 809.3V856.3M1191.9 782.8V856.3M1192.9 782.8V856.3M1193.9 812.0V856.3M1194.9 812.0V856.3M1195.9 815.5V856.3M1196.9 816.0V856.3M1197.9 821.6V856.3M1198.9 831.1V856.3M1199.9 831.9V856.3M1200.9 831.9V856.3M1201.9 831.6V856.3M1202.9 826.5V856.3M1203.9 826.5V856.3M1204.9 834.0V856.3M1205.9 834.3V856.3M1206.9 834.3V856.3M1207.9 830.1V856.3M1208.9 821.8V856.3M1209.9 805.5V856.3M1210.9 817.0V856.3M1211.9 829.5V856.3M1212.9 829.5V856.3M1213.9 823.8V856.3M1214.9 804.1V856.3M1215.9 790.8V856.3M1216.9 807.9V856.3M1217.9 808.8V856.3M1218.9 808.8V856.3M1219.9 801.5V856.3M1220.9 822.6V856.3M1221.9 827.0V856.3M1222.9 827.0V856.3M1223.9 813.7V856.3M1224.9 832.7V856.3M1225.9 832.7V856.3M1226.9 832.7V856.3M1227.9 832.5V856.3M1228.9 819.8V856.3M1229.9 829.0V856.3M1230.9 829.0V856.3M1231.9 809.8V856.3M1232.9 809.8V856.3M1233.9 818.0V856.3M1234.9 824.7V856.3M1235.9 828.2V856.3M1236.9 830.0V856.3M1237.9 830.0V856.3M1238.9 822.6V856.3M1239.9 800.3V856.3M1240.9 818.7V856.3M1241.9 819.8V856.3M1242.9 824.0V856.3M1243.9 830.5V856.3M1244.9 830.5V856.3M1245.9 830.5V856.3M1246.9 827.4V856.3M1247.9 823.3V856.3M1248.9 805.4V856.3M1249.9 796.8V856.3M1250.9 795.2V856.3M1251.9 787.0V856.3M1252.9 787.0V856.3M1253.9 808.3V856.3M1254.9 809.1V856.3M1255.9 815.1V856.3M1256.9 821.1V856.3M1257.9 827.1V856.3M1258.9 829.4V856.3M1259.9 830.4V856.3M1260.9 831.3V856.3M1261.9 832.0V856.3M1262.9 832.7V856.3M1263.9 832.8V856.3M1264.9 832.8V856.3M1265.9 824.0V856.3M1266.9 809.5V856.3M1267.9 809.5V856.3M1268.9 827.5V856.3M1269.9 827.5V856.3M1270.9 827.5V856.3M1271.9 818.0V856.3M1272.9 807.0V856.3M1273.9 807.0V856.3M1274.9 809.3V856.3M1275.9 809.3V856.3M1276.9 802.8V856.3M1277.9 802.8V856.3M1278.9 819.4V856.3M1279.9 819.4V856.3M1280.9 819.9V856.3M1281.9 827.9V856.3M1282.9 835.3V856.3M1283.9 835.3V856.3M1284.9 828.4V856.3M1285.9 814.5V856.3M1286.9 815.7V856.3M1287.9 822.6V856.3M1288.9 822.6V856.3M1289.9 820.6V856.3M1290.9 812.8V856.3M1291.9 812.8V856.3M1292.9 823.2V856.3M1293.9 823.6V856.3M1294.9 823.6V856.3M1295.9 823.6V856.3M1296.9 809.0V856.3M1297.9 827.6V856.3M1298.9 827.6V856.3M1299.9 827.6V856.3M1300.9 823.8V856.3M1301.9 819.5V856.3M1302.9 830.2V856.3M1303.9 830.2V856.3M1304.9 828.9V856.3M1305.9 822.6V856.3M1306.9 821.7V856.3M1307.9 821.4V856.3M1308.9 814.8V856.3M1309.9 774.5V856.3M1310.9 815.2V856.3M1311.9 816.0V856.3M1312.9 816.0V856.3M1313.9 809.8V856.3M1314.9 809.8V856.3M1315.9 820.0V856.3M1316.9 825.8V856.3M1317.9 835.9V856.3M1318.9 835.9V856.3M1319.9 834.6V856.3M1320.9 827.6V856.3M1321.9 821.1V856.3M1322.9 820.1V856.3M1323.9 814.9V856.3M1324.9 805.3V856.3M1325.9 809.1V856.3M1326.9 809.1V856.3M1327.9 809.0V856.3M1328.9 808.2V856.3M1329.9 803.2V856.3M1330.9 815.4V856.3M1331.9 816.5V856.3M1332.9 816.9V856.3M1333.9 816.9V856.3M1334.9 813.7V856.3M1335.9 813.7V856.3M1336.9 818.1V856.3M1337.9 822.9V856.3M1338.9 831.2V856.3M1339.9 835.7V856.3M1340.9 836.8V856.3M1341.9 836.8V856.3M1342.9 823.1V856.3M1343.9 800.8V856.3M1344.9 816.8V856.3M1345.9 823.0V856.3M1346.9 823.0V856.3M1347.9 818.3V856.3M1348.9 806.2V856.3M1349.9 823.3V856.3M1350.9 824.0V856.3M1351.9 824.4V856.3M1352.9 824.4V856.3M1353.9 823.5V856.3M1354.9 819.1V856.3M1355.9 794.5V856.3M1356.9 829.8V856.3M1357.9 829.8V856.3M1358.9 828.9V856.3M1359.9 825.4V856.3M1360.9 823.4V856.3M1361.9 821.8V856.3M1362.9 814.5V856.3M1363.9 819.9V856.3M1364.9 819.9V856.3M1365.9 819.6V856.3M1366.9 816.4V856.3M1367.9 789.5V856.3M1368.9 813.0V856.3M1369.9 813.4V856.3M1370.9 816.2V856.3M1371.9 817.9V856.3M1372.9 818.0V856.3M1373.9 818.2V856.3M1374.9 827.0V856.3M1375.9 834.3V856.3M1376.9 834.3V856.3M1377.9 830.3V856.3M1378.9 812.3V856.3M1379.9 803.7V856.3M1380.9 808.6V856.3M1381.9 808.6V856.3M1382.9 808.6V856.3M1383.9 808.1V856.3M1384.9 798.7V856.3M1385.9 805.0V856.3M1386.9 807.0V856.3M1387.9 808.1V856.3M1388.9 808.6V856.3M1389.9 812.7V856.3M1390.9 816.5V856.3M1391.9 817.8V856.3M1392.9 819.2V856.3M1393.9 819.7V856.3M1394.9 820.1V856.3M1395.9 824.6V856.3M1396.9 829.1V856.3M1397.9 829.1V856.3M1398.9 829.1V856.3M1399.9 821.4V856.3M1400.9 814.3V856.3M1401.9 812.5V856.3M1402.9 824.2V856.3M1403.9 824.2V856.3M1404.9 823.8V856.3M1405.9 822.9V856.3M1406.9 819.7V856.3M1407.9 816.9V856.3M1408.9 816.6V856.3M1409.9 816.3V856.3M1410.9 803.6V856.3M1411.9 795.8V856.3M1412.9 794.3V856.3M1413.9 814.0V856.3M1414.9 828.5V856.3M1415.9 828.5V856.3M1416.9 827.1V856.3M1417.9 824.5V856.3M1418.9 819.6V856.3M1419.9 811.6V856.3M1420.9 808.8V856.3M1421.9 803.2V856.3M1422.9 818.5V856.3M1423.9 818.5V856.3M1424.9 818.4V856.3M1425.9 817.9V856.3M1426.9 810.6V856.3M1427.9 807.8V856.3M1428.9 830.4V856.3M1429.9 830.6V856.3M1430.9 830.6V856.3M1431.9 827.8V856.3M1432.9 831.4V856.3M1433.9 831.4V856.3M1434.9 831.4V856.3M1435.9 829.3V856.3M1436.9 817.1V856.3M1437.9 809.8V856.3M1438.9 809.8V856.3M1439.9 808.0V856.3M1440.9 810.0V856.3M1441.9 810.0V856.3M1442.9 809.5V856.3M1443.9 808.8V856.3M1444.9 807.8V856.3M1445.9 806.5V856.3M1446.9 813.5V856.3M1447.9 819.9V856.3M1448.9 823.4V856.3M1449.9 823.4V856.3M1450.9 823.3V856.3M1451.9 821.3V856.3M1452.9 822.8V856.3M1453.9 824.1V856.3M1454.9 825.2V856.3M1455.9 827.2V856.3M1456.9 827.2V856.3M1457.9 826.9V856.3M1458.9 824.3V856.3M1459.9 823.4V856.3M1460.9 823.4V856.3M1461.9 823.4V856.3M1462.9 825.7V856.3M1463.9 827.2V856.3M1464.9 827.2V856.3M1465.9 827.1V856.3M1466.9 821.3V856.3M1467.9 814.3V856.3M1468.9 778.7V856.3M1469.9 778.7V856.3M1470.9 802.0V856.3M1471.9 828.4V856.3M1472.9 828.4V856.3M1473.9 828.4V856.3M1474.9 817.7V856.3M1475.9 817.0V856.3M1476.9 806.6V856.3M1477.9 802.6V856.3M1478.9 801.2V856.3M1479.9 796.7V856.3M1480.9 823.8V856.3M1481.9 827.3V856.3M1482.9 827.3V856.3M1483.9 827.3V856.3M1484.9 808.4V856.3M1485.9 802.8V856.3M1486.9 831.0V856.3M1487.9 832.3V856.3M1488.9 832.3V856.3M1489.9 832.1V856.3M1490.9 831.8V856.3M1491.9 831.5V856.3M1492.9 829.8V856.3M1493.9 826.2V856.3M1494.9 817.2V856.3M1495.9 811.1V856.3M1496.9 808.4V856.3M1497.9 826.7V856.3M1498.9 827.2V856.3M1499.9 827.2V856.3M1500.9 827.2V856.3M1501.9 816.1V856.3M1502.9 814.6V856.3M1503.9 788.7V856.3M1504.9 823.5V856.3M1505.9 829.6V856.3M1506.9 834.6V856.3M1507.9 834.6V856.3M1508.9 822.3V856.3M1509.9 822.3V856.3M1510.9 827.1V856.3M1511.9 827.1V856.3M1512.9 822.2V856.3M1513.9 815.6V856.3M1514.9 824.3V856.3M1515.9 824.3V856.3M1516.9 823.8V856.3M1517.9 823.0V856.3M1518.9 825.1V856.3M1519.9 825.1V856.3M1520.9 824.5V856.3M1521.9 827.5V856.3M1522.9 827.7V856.3M1523.9 827.8V856.3M1524.9 827.8V856.3M1525.9 813.0V856.3M1526.9 784.0V856.3M1527.9 799.3V856.3M1528.9 814.5V856.3M1529.9 822.7V856.3M1530.9 822.7V856.3M1531.9 815.3V856.3M1532.9 817.1V856.3M1533.9 817.1V856.3M1534.9 816.8V856.3M1535.9 792.3V856.3M1536.9 812.0V856.3M1537.9 824.3V856.3M1538.9 831.7V856.3M1539.9 832.2V856.3M1540.9 832.2V856.3M1541.9 819.7V856.3M1542.9 803.2V856.3M1543.9 827.2V856.3M1544.9 830.6V856.3M1545.9 830.6V856.3M1546.9 829.1V856.3M1547.9 830.1V856.3M1548.9 830.1V856.3M1549.9 830.1V856.3M1550.9 829.6V856.3M1551.9 827.3V856.3M1552.9 812.2V856.3M1553.9 813.6V856.3M1554.9 816.1V856.3M1555.9 820.6V856.3M1556.9 828.7V856.3M1557.9 829.5V856.3M1558.9 829.5V856.3M1559.9 829.5V856.3M1560.9 791.7V856.3M1561.9 791.7V856.3M1562.9 830.1V856.3M1563.9 835.4V856.3M1564.9 835.4V856.3M1565.9 835.4V856.3M1566.9 830.0V856.3M1567.9 836.2V856.3M1568.9 836.2V856.3M1569.9 836.2V856.3M1570.9 830.8V856.3M1571.9 811.2V856.3M1572.9 822.8V856.3M1573.9 822.8V856.3M1574.9 822.6V856.3M1575.9 822.6V856.3M1576.9 825.0V856.3M1577.9 825.0V856.3M1578.9 824.8V856.3M1579.9 824.5V856.3M1580.9 823.8V856.3M1581.9 823.6V856.3M1582.9 823.6V856.3M1583.9 816.2V856.3M1584.9 806.2V856.3M1585.9 810.9V856.3M1586.9 812.2V856.3M1587.9 817.0V856.3M1588.9 817.0V856.3M1589.9 817.9V856.3M1590.9 825.1V856.3M1591.9 825.1V856.3M1592.9 825.1V856.3M1593.9 791.0V856.3M1594.9 828.7V856.3M1595.9 830.6V856.3M1596.9 834.3V856.3M1597.9 834.3V856.3M1598.9 832.4V856.3M1599.9 808.6V856.3M1600.9 824.1V856.3M1601.9 835.5V856.3M1602.9 835.5V856.3M1603.9 834.8V856.3M1604.9 825.3V856.3M1605.9 820.4V856.3M1606.9 818.4V856.3M1607.9 818.4V856.3M1608.9 818.4V856.3M1609.9 814.6V856.3M1610.9 810.4V856.3M1611.9 815.5V856.3M1612.9 815.5V856.3" stroke="#1f77b4" stroke-width="2.35" stroke-linecap="round" fill="none"/>
<path d="M289.45 591.00V856.3" stroke="#1f77b4" stroke-width="3.1" stroke-linecap="butt" fill="none"/>
<path d="M347.05 646.20V856.3" stroke="#1f77b4" stroke-width="2.3" stroke-linecap="butt" fill="none"/>
<path d="M347.20 718.60V856.3" stroke="#1f77b4" stroke-width="3.0" stroke-linecap="butt" fill="none"/>
<path d="M404.60 716.20V856.3" stroke="#1f77b4" stroke-width="2.7" stroke-linecap="butt" fill="none"/>
</g>
<text x="921.90" y="615.79" font-family="'DejaVu Sans', 'Liberation Sans', sans-serif" font-size="33.3333px" text-anchor="start" fill="#000000">Period: 47.841 h</text>
<path d="M232.5 856.50V861.50M508.5 856.50V861.50M784.5 856.50V861.50M1061.5 856.50V861.50M1337.5 856.50V861.50M1613.5 856.50V861.50M225.50 854.5H220.50M225.50 765.5H220.50M225.50 675.5H220.50" stroke="#000000" stroke-width="1.111" fill="none"/>
<path d="M225.5 588.95V857.05M1620.5 588.95V857.05M224.95 589.5H1621.05M224.95 856.5H1621.05" stroke="#000000" stroke-width="1.111" fill="none"/>
<path d="M221.00 853.5H225.00M221.00 855.5H225.00M221.00 764.5H225.00M221.00 766.5H225.00M221.00 674.5H225.00M221.00 676.5H225.00M225.00 588.5H1621.00M226.00 590.5H1620.00M226.00 855.5H1620.00M225.00 857.5H1621.00" stroke="#000000" stroke-opacity="0.056" stroke-width="1" fill="none"/>
<text x="232.09" y="890.92" font-family="'DejaVu Sans', 'Liberation Sans', sans-serif" font-size="33.3333px" text-anchor="middle" fill="#000000">0.0</text>
<text x="508.34" y="890.64" font-family="'DejaVu Sans', 'Liberation Sans', sans-serif" font-size="33.3333px" text-anchor="middle" fill="#000000">0.2</text>
<text x="784.38" y="890.63" font-family="'DejaVu Sans', 'Liberation Sans', sans-serif" font-size="33.3333px" text-anchor="middle" fill="#000000">0.4</text>
<text x="1060.10" y="890.84" font-family="'DejaVu Sans', 'Liberation Sans', sans-serif" font-size="33.3333px" text-anchor="middle" fill="#000000">0.6</text>
<text x="1337.38" y="890.55" font-family="'DejaVu Sans', 'Liberation Sans', sans-serif" font-size="33.3333px" text-anchor="middle" fill="#000000">0.8</text>
<text x="1612.82" y="890.69" font-family="'DejaVu Sans', 'Liberation Sans', sans-serif" font-size="33.3333px" text-anchor="middle" fill="#000000">1.0</text>
<text x="214.56" y="866.84" font-family="'DejaVu Sans', 'Liberation Sans', sans-serif" font-size="33.3333px" text-anchor="end" fill="#000000">0.00</text>
<text x="214.87" y="778.06" font-family="'DejaVu Sans', 'Liberation Sans', sans-serif" font-size="33.3333px" text-anchor="end" fill="#000000">0.25</text>
<text x="214.82" y="687.89" font-family="'DejaVu Sans', 'Liberation Sans', sans-serif" font-size="33.3333px" text-anchor="end" fill="#000000">0.50</text>
<text x="921.96" y="929.85" font-family="'DejaVu Sans', 'Liberation Sans', sans-serif" font-size="33.3333px" text-anchor="middle" fill="#000000">Rotational Period (Hours)</text>
<text x="127.19" y="723.45" font-family="'DejaVu Sans', 'Liberation Sans', sans-serif" font-size="33.3333px" text-anchor="middle" fill="#000000" transform="rotate(-90 127.19 723.45)">L-S Power</text>
<g clip-path="url(#c2)">
<path d="M285.0 964.0V1063.0M305.0 1053.0V1092.0M349.0 966.0V1022.0M616.0 1168.0V1202.0M752.0 1148.0V1228.0M803.0 989.0V1037.0M801.0 1028.0V1064.0M794.0 1083.0V1120.0M804.0 1086.0V1122.0M808.0 1110.0V1142.0M821.0 995.0V1054.0M818.0 1026.0V1052.0M821.0 1070.0V1102.0M824.0 1075.0V1107.0M836.0 1031.0V1078.0M842.0 1044.0V1078.0M851.0 989.0V1022.0M855.0 1006.0V1034.0M863.0 1019.0V1045.0M856.0 1053.0V1090.0M892.0 1074.0V1111.0M999.0 1053.0V1105.0M1257.0 1132.0V1164.0M1277.0 1157.0V1196.0M1301.0 1157.0V1203.0M1322.0 1135.0V1168.0M1371.0 1042.0V1142.0M1396.0 1045.0V1112.0M1450.0 1099.0V1146.0M1455.0 1103.0V1157.0M1476.0 1097.0V1135.0M1517.0 1064.0V1138.0M1536.0 1078.0V1140.0M1547.0 1010.0V1083.0M1576.0 1003.0V1051.0" stroke="#117733" stroke-width="2.083" fill="none"/>
<path d="M329.0 1058.0V1098.0M355.0 1056.0V1112.0M362.0 1042.0V1073.0M462.0 1110.0V1169.0M493.0 1111.0V1174.0M501.0 1161.0V1216.0M518.0 1181.0V1216.0M540.0 1171.0V1217.0M555.0 1170.0V1195.0M587.0 1192.0V1224.0M595.0 1166.0V1213.0M601.0 1174.0V1209.0M613.0 1155.0V1187.0M618.0 1168.0V1200.0M684.0 1145.0V1187.0M687.0 1175.0V1206.0M750.0 1064.0V1101.0M802.0 1052.0V1074.0M805.0 1076.0V1098.0M801.0 1099.0V1118.0M799.0 1109.0V1133.0M836.0 1002.0V1028.0M837.0 1025.0V1058.0M823.0 1027.0V1060.0M823.0 1047.0V1074.0M827.0 1055.0V1085.0M857.0 1020.0V1080.0M861.0 1061.0V1089.0M865.0 1082.0V1102.0M819.0 1082.0V1120.0M823.0 1095.0V1121.0M829.0 1100.0V1123.0M942.0 1002.0V1048.0M1016.0 1057.0V1119.0M1113.0 1115.0V1200.0M1166.0 1149.0V1207.0M1187.0 1138.0V1180.0M1187.0 1144.0V1215.0M1202.0 1167.0V1227.0M1240.0 1144.0V1189.0M1244.0 1156.0V1183.0M1268.0 1150.0V1186.0M1283.0 1160.0V1193.0M1304.0 1152.0V1186.0M1318.0 1150.0V1175.0M1319.0 1163.0V1192.0M1316.0 1169.0V1209.0M1361.0 1153.0V1182.0M1388.0 1164.0V1189.0M1392.0 1161.0V1189.0M1419.0 1034.0V1086.0M1449.0 1100.0V1130.0M1525.0 1033.0V1088.0M1536.0 1007.0V1039.0M1556.0 1065.0V1121.0" stroke="#882255" stroke-width="2.083" fill="none"/>
<path d="M231.91 1042.35 L235.36 1042.30 L238.81 1042.32 L242.26 1042.42 L245.72 1042.58 L249.17 1042.81 L252.62 1043.12 L256.08 1043.49 L259.53 1043.93 L262.98 1044.43 L266.44 1045.01 L269.89 1045.65 L273.34 1046.36 L276.79 1047.13 L280.25 1047.97 L283.70 1048.88 L287.15 1049.84 L290.61 1050.87 L294.06 1051.96 L297.51 1053.11 L300.97 1054.32 L304.42 1055.59 L307.87 1056.91 L311.32 1058.29 L314.78 1059.72 L318.23 1061.21 L321.68 1062.74 L325.14 1064.33 L328.59 1065.97 L332.04 1067.65 L335.50 1069.37 L338.95 1071.14 L342.40 1072.95 L345.85 1074.80 L349.31 1076.68 L352.76 1078.61 L356.21 1080.56 L359.67 1082.55 L363.12 1084.57 L366.57 1086.62 L370.02 1088.69 L373.48 1090.78 L376.93 1092.90 L380.38 1095.04 L383.84 1097.20 L387.29 1099.37 L390.74 1101.55 L394.20 1103.75 L397.65 1105.95 L401.10 1108.16 L404.55 1110.38 L408.01 1112.60 L411.46 1114.82 L414.91 1117.04 L418.37 1119.25 L421.82 1121.46 L425.27 1123.65 L428.73 1125.84 L432.18 1128.02 L435.63 1130.18 L439.08 1132.32 L442.54 1134.45 L445.99 1136.55 L449.44 1138.63 L452.90 1140.69 L456.35 1142.71 L459.80 1144.71 L463.25 1146.68 L466.71 1148.61 L470.16 1150.51 L473.61 1152.37 L477.07 1154.19 L480.52 1155.97 L483.97 1157.71 L487.43 1159.41 L490.88 1161.06 L494.33 1162.66 L497.78 1164.21 L501.24 1165.71 L504.69 1167.16 L508.14 1168.56 L511.60 1169.90 L515.05 1171.18 L518.50 1172.41 L521.96 1173.58 L525.41 1174.69 L528.86 1175.74 L532.31 1176.73 L535.77 1177.65 L539.22 1178.51 L542.67 1179.30 L546.13 1180.03 L549.58 1180.70 L553.03 1181.29 L556.49 1181.82 L559.94 1182.28 L563.39 1182.67 L566.84 1183.00 L570.30 1183.25 L573.75 1183.44 L577.20 1183.55 L580.66 1183.60 L584.11 1183.58 L587.56 1183.48 L591.01 1183.32 L594.47 1183.09 L597.92 1182.78 L601.37 1182.41 L604.83 1181.97 L608.28 1181.47 L611.73 1180.89 L615.19 1180.25 L618.64 1179.54 L622.09 1178.77 L625.54 1177.93 L629.00 1177.02 L632.45 1176.06 L635.90 1175.03 L639.36 1173.94 L642.81 1172.79 L646.26 1171.58 L649.72 1170.31 L653.17 1168.99 L656.62 1167.61 L660.07 1166.18 L663.53 1164.69 L666.98 1163.16 L670.43 1161.57 L673.89 1159.93 L677.34 1158.25 L680.79 1156.53 L684.25 1154.76 L687.70 1152.95 L691.15 1151.10 L694.60 1149.22 L698.06 1147.29 L701.51 1145.34 L704.96 1143.35 L708.42 1141.33 L711.87 1139.28 L715.32 1137.21 L718.77 1135.12 L722.23 1133.00 L725.68 1130.86 L729.13 1128.70 L732.59 1126.53 L736.04 1124.35 L739.49 1122.15 L742.95 1119.95 L746.40 1117.74 L749.85 1115.52 L753.30 1113.30 L756.76 1111.08 L760.21 1108.86 L763.66 1106.65 L767.12 1104.44 L770.57 1102.25 L774.02 1100.06 L777.48 1097.88 L780.93 1095.72 L784.38 1093.58 L787.83 1091.45 L791.29 1089.35 L794.74 1087.27 L798.19 1085.21 L801.65 1083.19 L805.10 1081.19 L808.55 1079.22 L812.00 1077.29 L815.46 1075.39 L818.91 1073.53 L822.36 1071.71 L825.82 1069.93 L829.27 1068.19 L832.72 1066.49 L836.18 1064.84 L839.63 1063.24 L843.08 1061.69 L846.53 1060.19 L849.99 1058.74 L853.44 1057.34 L856.89 1056.00 L860.35 1054.72 L863.80 1053.49 L867.25 1052.32 L870.71 1051.21 L874.16 1050.16 L877.61 1049.17 L881.06 1048.25 L884.52 1047.39 L887.97 1046.60 L891.42 1045.87 L894.88 1045.20 L898.33 1044.61 L901.78 1044.08 L905.24 1043.62 L908.69 1043.23 L912.14 1042.90 L915.59 1042.65 L919.05 1042.46 L922.50 1042.35 L925.95 1042.30 L929.41 1042.32 L932.86 1042.42 L936.31 1042.58 L939.76 1042.81 L943.22 1043.12 L946.67 1043.49 L950.12 1043.93 L953.58 1044.43 L957.03 1045.01 L960.48 1045.65 L963.94 1046.36 L967.39 1047.13 L970.84 1047.97 L974.29 1048.88 L977.75 1049.84 L981.20 1050.87 L984.65 1051.96 L988.11 1053.11 L991.56 1054.32 L995.01 1055.59 L998.47 1056.91 L1001.92 1058.29 L1005.37 1059.72 L1008.82 1061.21 L1012.28 1062.74 L1015.73 1064.33 L1019.18 1065.97 L1022.64 1067.65 L1026.09 1069.37 L1029.54 1071.14 L1033.00 1072.95 L1036.45 1074.80 L1039.90 1076.68 L1043.35 1078.61 L1046.81 1080.56 L1050.26 1082.55 L1053.71 1084.57 L1057.17 1086.62 L1060.62 1088.69 L1064.07 1090.78 L1067.52 1092.90 L1070.98 1095.04 L1074.43 1097.20 L1077.88 1099.37 L1081.34 1101.55 L1084.79 1103.75 L1088.24 1105.95 L1091.70 1108.16 L1095.15 1110.38 L1098.60 1112.60 L1102.05 1114.82 L1105.51 1117.04 L1108.96 1119.25 L1112.41 1121.46 L1115.87 1123.65 L1119.32 1125.84 L1122.77 1128.02 L1126.23 1130.18 L1129.68 1132.32 L1133.13 1134.45 L1136.58 1136.55 L1140.04 1138.63 L1143.49 1140.69 L1146.94 1142.71 L1150.40 1144.71 L1153.85 1146.68 L1157.30 1148.61 L1160.75 1150.51 L1164.21 1152.37 L1167.66 1154.19 L1171.11 1155.97 L1174.57 1157.71 L1178.02 1159.41 L1181.47 1161.06 L1184.93 1162.66 L1188.38 1164.21 L1191.83 1165.71 L1195.28 1167.16 L1198.74 1168.56 L1202.19 1169.90 L1205.64 1171.18 L1209.10 1172.41 L1212.55 1173.58 L1216.00 1174.69 L1219.46 1175.74 L1222.91 1176.73 L1226.36 1177.65 L1229.81 1178.51 L1233.27 1179.30 L1236.72 1180.03 L1240.17 1180.70 L1243.63 1181.29 L1247.08 1181.82 L1250.53 1182.28 L1253.99 1182.67 L1257.44 1183.00 L1260.89 1183.25 L1264.34 1183.44 L1267.80 1183.55 L1271.25 1183.60 L1274.70 1183.58 L1278.16 1183.48 L1281.61 1183.32 L1285.06 1183.09 L1288.51 1182.78 L1291.97 1182.41 L1295.42 1181.97 L1298.87 1181.47 L1302.33 1180.89 L1305.78 1180.25 L1309.23 1179.54 L1312.69 1178.77 L1316.14 1177.93 L1319.59 1177.02 L1323.04 1176.06 L1326.50 1175.03 L1329.95 1173.94 L1333.40 1172.79 L1336.86 1171.58 L1340.31 1170.31 L1343.76 1168.99 L1347.22 1167.61 L1350.67 1166.18 L1354.12 1164.69 L1357.57 1163.16 L1361.03 1161.57 L1364.48 1159.93 L1367.93 1158.25 L1371.39 1156.53 L1374.84 1154.76 L1378.29 1152.95 L1381.75 1151.10 L1385.20 1149.22 L1388.65 1147.29 L1392.10 1145.34 L1395.56 1143.35 L1399.01 1141.33 L1402.46 1139.28 L1405.92 1137.21 L1409.37 1135.12 L1412.82 1133.00 L1416.27 1130.86 L1419.73 1128.70 L1423.18 1126.53 L1426.63 1124.35 L1430.09 1122.15 L1433.54 1119.95 L1436.99 1117.74 L1440.45 1115.52 L1443.90 1113.30 L1447.35 1111.08 L1450.80 1108.86 L1454.26 1106.65 L1457.71 1104.44 L1461.16 1102.25 L1464.62 1100.06 L1468.07 1097.88 L1471.52 1095.72 L1474.98 1093.58 L1478.43 1091.45 L1481.88 1089.35 L1485.33 1087.27 L1488.79 1085.21 L1492.24 1083.19 L1495.69 1081.19 L1499.15 1079.22 L1502.60 1077.29 L1506.05 1075.39 L1509.50 1073.53 L1512.96 1071.71 L1516.41 1069.93 L1519.86 1068.19 L1523.32 1066.49 L1526.77 1064.84 L1530.22 1063.24 L1533.68 1061.69 L1537.13 1060.19 L1540.58 1058.74 L1544.03 1057.34 L1547.49 1056.00 L1550.94 1054.72 L1554.39 1053.49 L1557.85 1052.32 L1561.30 1051.21 L1564.75 1050.16 L1568.21 1049.17 L1571.66 1048.25 L1575.11 1047.39 L1578.56 1046.60 L1582.02 1045.87 L1585.47 1045.20 L1588.92 1044.61 L1592.38 1044.08 L1595.83 1043.62 L1599.28 1043.23 L1602.74 1042.90 L1606.19 1042.65 L1609.64 1042.46 L1613.09 1042.35" stroke="#1f77b4" stroke-width="2.083" fill="none" stroke-linecap="square" stroke-linejoin="round"/>
<g fill="#117733"><circle cx="285.5" cy="1013.5" r="4.167"/><circle cx="305.5" cy="1072.5" r="4.167"/><circle cx="349.5" cy="994.5" r="4.167"/><circle cx="616.5" cy="1184.5" r="4.167"/><circle cx="752.5" cy="1188.5" r="4.167"/><circle cx="803.5" cy="1013.5" r="4.167"/><circle cx="801.5" cy="1046.5" r="4.167"/><circle cx="794.5" cy="1101.5" r="4.167"/><circle cx="804.5" cy="1103.5" r="4.167"/><circle cx="808.5" cy="1126.5" r="4.167"/><circle cx="821.5" cy="1024.5" r="4.167"/><circle cx="818.5" cy="1039.5" r="4.167"/><circle cx="821.5" cy="1086.5" r="4.167"/><circle cx="824.5" cy="1091.5" r="4.167"/><circle cx="836.5" cy="1054.5" r="4.167"/><circle cx="842.5" cy="1061.5" r="4.167"/><circle cx="851.5" cy="1005.5" r="4.167"/><circle cx="855.5" cy="1020.5" r="4.167"/><circle cx="863.5" cy="1032.5" r="4.167"/><circle cx="856.5" cy="1071.5" r="4.167"/><circle cx="892.5" cy="1092.5" r="4.167"/><circle cx="999.5" cy="1079.5" r="4.167"/><circle cx="1257.5" cy="1148.5" r="4.167"/><circle cx="1277.5" cy="1176.5" r="4.167"/><circle cx="1301.5" cy="1180.5" r="4.167"/><circle cx="1322.5" cy="1151.5" r="4.167"/><circle cx="1371.5" cy="1092.5" r="4.167"/><circle cx="1396.5" cy="1078.5" r="4.167"/><circle cx="1450.5" cy="1122.5" r="4.167"/><circle cx="1455.5" cy="1130.5" r="4.167"/><circle cx="1476.5" cy="1116.5" r="4.167"/><circle cx="1517.5" cy="1101.5" r="4.167"/><circle cx="1536.5" cy="1109.5" r="4.167"/><circle cx="1547.5" cy="1046.5" r="4.167"/><circle cx="1576.5" cy="1027.5" r="4.167"/></g>
<g fill="#882255"><circle cx="329.5" cy="1078.5" r="4.167"/><circle cx="355.5" cy="1084.5" r="4.167"/><circle cx="362.5" cy="1057.5" r="4.167"/><circle cx="462.5" cy="1140.5" r="4.167"/><circle cx="493.5" cy="1143.5" r="4.167"/><circle cx="501.5" cy="1189.5" r="4.167"/><circle cx="518.5" cy="1198.5" r="4.167"/><circle cx="540.5" cy="1194.5" r="4.167"/><circle cx="555.5" cy="1182.5" r="4.167"/><circle cx="587.5" cy="1208.5" r="4.167"/><circle cx="595.5" cy="1190.5" r="4.167"/><circle cx="601.5" cy="1191.5" r="4.167"/><circle cx="613.5" cy="1171.5" r="4.167"/><circle cx="618.5" cy="1184.5" r="4.167"/><circle cx="684.5" cy="1166.5" r="4.167"/><circle cx="687.5" cy="1190.5" r="4.167"/><circle cx="750.5" cy="1083.5" r="4.167"/><circle cx="802.5" cy="1063.5" r="4.167"/><circle cx="805.5" cy="1087.5" r="4.167"/><circle cx="801.5" cy="1108.5" r="4.167"/><circle cx="799.5" cy="1120.5" r="4.167"/><circle cx="836.5" cy="1015.5" r="4.167"/><circle cx="837.5" cy="1041.5" r="4.167"/><circle cx="823.5" cy="1043.5" r="4.167"/><circle cx="823.5" cy="1060.5" r="4.167"/><circle cx="827.5" cy="1070.5" r="4.167"/><circle cx="857.5" cy="1050.5" r="4.167"/><circle cx="861.5" cy="1075.5" r="4.167"/><circle cx="865.5" cy="1092.5" r="4.167"/><circle cx="819.5" cy="1101.5" r="4.167"/><circle cx="823.5" cy="1108.5" r="4.167"/><circle cx="829.5" cy="1111.5" r="4.167"/><circle cx="942.5" cy="1025.5" r="4.167"/><circle cx="1016.5" cy="1088.5" r="4.167"/><circle cx="1113.5" cy="1157.5" r="4.167"/><circle cx="1166.5" cy="1178.5" r="4.167"/><circle cx="1187.5" cy="1159.5" r="4.167"/><circle cx="1187.5" cy="1179.5" r="4.167"/><circle cx="1202.5" cy="1197.5" r="4.167"/><circle cx="1240.5" cy="1166.5" r="4.167"/><circle cx="1244.5" cy="1169.5" r="4.167"/><circle cx="1268.5" cy="1168.5" r="4.167"/><circle cx="1283.5" cy="1176.5" r="4.167"/><circle cx="1304.5" cy="1169.5" r="4.167"/><circle cx="1318.5" cy="1162.5" r="4.167"/><circle cx="1319.5" cy="1177.5" r="4.167"/><circle cx="1316.5" cy="1189.5" r="4.167"/><circle cx="1361.5" cy="1167.5" r="4.167"/><circle cx="1388.5" cy="1176.5" r="4.167"/><circle cx="1392.5" cy="1175.5" r="4.167"/><circle cx="1419.5" cy="1060.5" r="4.167"/><circle cx="1449.5" cy="1115.5" r="4.167"/><circle cx="1525.5" cy="1060.5" r="4.167"/><circle cx="1536.5" cy="1023.5" r="4.167"/><circle cx="1556.5" cy="1093.5" r="4.167"/></g>
</g>
<path d="M232.5 1229.50V1234.50M521.5 1229.50V1234.50M809.5 1229.50V1234.50M1098.5 1229.50V1234.50M1387.5 1229.50V1234.50M225.50 1067.5H220.50M225.50 1186.5H220.50" stroke="#000000" stroke-width="1.111" fill="none"/>
<path d="M225.5 961.95V1230.05M1620.5 961.95V1230.05M224.95 962.5H1621.05M224.95 1229.5H1621.05" stroke="#000000" stroke-width="1.111" fill="none"/>
<path d="M221.00 1066.5H225.00M221.00 1068.5H225.00M221.00 1185.5H225.00M221.00 1187.5H225.00M225.00 961.5H1621.00M226.00 963.5H1620.00M226.00 1228.5H1620.00M225.00 1230.5H1621.00" stroke="#000000" stroke-opacity="0.056" stroke-width="1" fill="none"/>
<text x="232.66" y="1265.20" font-family="'DejaVu Sans', 'Liberation Sans', sans-serif" font-size="33.3333px" text-anchor="middle" fill="#000000">0</text>
<text x="520.49" y="1265.20" font-family="'DejaVu Sans', 'Liberation Sans', sans-serif" font-size="33.3333px" text-anchor="middle" fill="#000000">10</text>
<text x="809.67" y="1265.12" font-family="'DejaVu Sans', 'Liberation Sans', sans-serif" font-size="33.3333px" text-anchor="middle" fill="#000000">20</text>
<text x="1097.79" y="1265.16" font-family="'DejaVu Sans', 'Liberation Sans', sans-serif" font-size="33.3333px" text-anchor="middle" fill="#000000">30</text>
<text x="1386.63" y="1265.21" font-family="'DejaVu Sans', 'Liberation Sans', sans-serif" font-size="33.3333px" text-anchor="middle" fill="#000000">40</text>
<text x="214.33" y="1080.18" font-family="'DejaVu Sans', 'Liberation Sans', sans-serif" font-size="33.3333px" text-anchor="end" fill="#000000">15.0</text>
<text x="214.34" y="1198.99" font-family="'DejaVu Sans', 'Liberation Sans', sans-serif" font-size="33.3333px" text-anchor="end" fill="#000000">14.5</text>
<text x="922.98" y="1302.96" font-family="'DejaVu Sans', 'Liberation Sans', sans-serif" font-size="33.3333px" text-anchor="middle" fill="#000000">Phase (hours)</text>
<text x="127.24" y="1096.44" font-family="'DejaVu Sans', 'Liberation Sans', sans-serif" font-size="33.3333px" text-anchor="middle" fill="#000000" transform="rotate(-90 127.24 1096.44)">H (mag)</text>
<g clip-path="url(#c3)">
<path d="M334.0 1438.0V1484.0M337.0 1454.0V1495.0M348.0 1442.0V1495.0M368.0 1421.0V1460.0M391.0 1410.0V1447.0M942.0 1340.0V1404.0M953.0 1369.0V1486.0M942.0 1465.0V1510.0M950.0 1464.0V1523.0M1430.0 1337.0V1453.0M1447.0 1355.0V1433.0M1457.0 1509.0V1601.0M1477.0 1467.0V1528.0M1480.0 1464.0V1508.0M1483.0 1472.0V1516.0M1488.0 1474.0V1518.0M1492.0 1506.0V1541.0M1498.0 1458.0V1512.0M1510.0 1405.0V1447.0M1517.0 1448.0V1489.0M1522.0 1411.0V1443.0M1527.0 1429.0V1459.0M1529.0 1480.0V1507.0M1533.0 1466.0V1503.0M1546.0 1463.0V1549.0M1550.0 1414.0V1445.0M1552.0 1389.0V1428.0M1560.0 1421.0V1473.0M1566.0 1380.0V1448.0M1591.0 1361.0V1418.0M1597.0 1416.0V1500.0M1593.0 1429.0V1486.0M1589.0 1465.0V1507.0M1587.0 1502.0V1544.0M1613.0 1490.0V1561.0" stroke="#117733" stroke-width="2.083" fill="none"/>
<path d="M232.0 1460.0V1558.0M255.0 1463.0V1531.0M259.0 1427.0V1495.0M265.0 1409.0V1483.0M269.0 1439.0V1488.0M269.0 1447.0V1528.0M266.0 1464.0V1528.0M276.0 1465.0V1535.0M286.0 1460.0V1513.0M316.0 1449.0V1504.0M320.0 1427.0V1478.0M323.0 1456.0V1493.0M323.0 1481.0V1519.0M334.0 1453.0V1486.0M337.0 1479.0V1516.0M344.0 1459.0V1500.0M348.0 1430.0V1472.0M360.0 1494.0V1530.0M372.0 1455.0V1485.0M375.0 1443.0V1481.0M382.0 1460.0V1493.0M389.0 1488.0V1520.0M394.0 1439.0V1471.0M413.0 1440.0V1476.0M415.0 1438.0V1464.0M417.0 1459.0V1505.0M431.0 1436.0V1475.0M455.0 1458.0V1507.0M915.0 1460.0V1531.0M950.0 1421.0V1474.0M953.0 1459.0V1505.0M960.0 1441.0V1506.0M969.0 1420.0V1455.0M1454.0 1359.0V1419.0M1457.0 1410.0V1452.0M1461.0 1457.0V1493.0M1480.0 1496.0V1525.0M1492.0 1499.0V1523.0M1494.0 1453.0V1488.0M1517.0 1488.0V1509.0M1526.0 1464.0V1487.0M1529.0 1503.0V1525.0M1533.0 1433.0V1459.0M1546.0 1483.0V1549.0M1552.0 1417.0V1456.0M1550.0 1445.0V1468.0M1560.0 1407.0V1446.0M1566.0 1424.0V1461.0M1587.0 1397.0V1427.0M1591.0 1476.0V1510.0M1593.0 1480.0V1523.0M1589.0 1508.0V1532.0M1610.0 1425.0V1496.0M1613.0 1432.0V1495.0" stroke="#882255" stroke-width="2.083" fill="none"/>
<path d="M225.0 1469.00H1620.0" stroke="#000000" stroke-width="2.083" stroke-dasharray="7.708 3.333" fill="none"/>
<g fill="#117733"><circle cx="334.5" cy="1461.5" r="4.167"/><circle cx="337.5" cy="1474.5" r="4.167"/><circle cx="348.5" cy="1468.5" r="4.167"/><circle cx="368.5" cy="1440.5" r="4.167"/><circle cx="391.5" cy="1429.5" r="4.167"/><circle cx="942.5" cy="1372.5" r="4.167"/><circle cx="953.5" cy="1427.5" r="4.167"/><circle cx="942.5" cy="1487.5" r="4.167"/><circle cx="950.5" cy="1493.5" r="4.167"/><circle cx="1430.5" cy="1395.5" r="4.167"/><circle cx="1447.5" cy="1394.5" r="4.167"/><circle cx="1457.5" cy="1555.5" r="4.167"/><circle cx="1477.5" cy="1497.5" r="4.167"/><circle cx="1480.5" cy="1486.5" r="4.167"/><circle cx="1483.5" cy="1493.5" r="4.167"/><circle cx="1488.5" cy="1496.5" r="4.167"/><circle cx="1492.5" cy="1523.5" r="4.167"/><circle cx="1498.5" cy="1485.5" r="4.167"/><circle cx="1510.5" cy="1426.5" r="4.167"/><circle cx="1517.5" cy="1468.5" r="4.167"/><circle cx="1522.5" cy="1427.5" r="4.167"/><circle cx="1527.5" cy="1444.5" r="4.167"/><circle cx="1529.5" cy="1493.5" r="4.167"/><circle cx="1533.5" cy="1484.5" r="4.167"/><circle cx="1546.5" cy="1506.5" r="4.167"/><circle cx="1550.5" cy="1429.5" r="4.167"/><circle cx="1552.5" cy="1408.5" r="4.167"/><circle cx="1560.5" cy="1446.5" r="4.167"/><circle cx="1566.5" cy="1414.5" r="4.167"/><circle cx="1591.5" cy="1389.5" r="4.167"/><circle cx="1597.5" cy="1459.5" r="4.167"/><circle cx="1593.5" cy="1457.5" r="4.167"/><circle cx="1589.5" cy="1486.5" r="4.167"/><circle cx="1587.5" cy="1523.5" r="4.167"/><circle cx="1613.5" cy="1525.5" r="4.167"/></g>
<g fill="#882255"><circle cx="232.5" cy="1509.5" r="4.167"/><circle cx="255.5" cy="1497.5" r="4.167"/><circle cx="259.5" cy="1461.5" r="4.167"/><circle cx="265.5" cy="1446.5" r="4.167"/><circle cx="269.5" cy="1463.5" r="4.167"/><circle cx="269.5" cy="1487.5" r="4.167"/><circle cx="266.5" cy="1495.5" r="4.167"/><circle cx="276.5" cy="1500.5" r="4.167"/><circle cx="286.5" cy="1486.5" r="4.167"/><circle cx="316.5" cy="1477.5" r="4.167"/><circle cx="320.5" cy="1452.5" r="4.167"/><circle cx="323.5" cy="1474.5" r="4.167"/><circle cx="323.5" cy="1499.5" r="4.167"/><circle cx="334.5" cy="1469.5" r="4.167"/><circle cx="337.5" cy="1497.5" r="4.167"/><circle cx="344.5" cy="1480.5" r="4.167"/><circle cx="348.5" cy="1451.5" r="4.167"/><circle cx="360.5" cy="1512.5" r="4.167"/><circle cx="372.5" cy="1470.5" r="4.167"/><circle cx="375.5" cy="1462.5" r="4.167"/><circle cx="382.5" cy="1476.5" r="4.167"/><circle cx="389.5" cy="1503.5" r="4.167"/><circle cx="394.5" cy="1455.5" r="4.167"/><circle cx="413.5" cy="1458.5" r="4.167"/><circle cx="415.5" cy="1451.5" r="4.167"/><circle cx="417.5" cy="1482.5" r="4.167"/><circle cx="431.5" cy="1455.5" r="4.167"/><circle cx="455.5" cy="1482.5" r="4.167"/><circle cx="915.5" cy="1496.5" r="4.167"/><circle cx="950.5" cy="1448.5" r="4.167"/><circle cx="953.5" cy="1482.5" r="4.167"/><circle cx="960.5" cy="1474.5" r="4.167"/><circle cx="969.5" cy="1437.5" r="4.167"/><circle cx="1454.5" cy="1389.5" r="4.167"/><circle cx="1457.5" cy="1431.5" r="4.167"/><circle cx="1461.5" cy="1475.5" r="4.167"/><circle cx="1480.5" cy="1510.5" r="4.167"/><circle cx="1492.5" cy="1511.5" r="4.167"/><circle cx="1494.5" cy="1470.5" r="4.167"/><circle cx="1517.5" cy="1498.5" r="4.167"/><circle cx="1526.5" cy="1476.5" r="4.167"/><circle cx="1529.5" cy="1514.5" r="4.167"/><circle cx="1533.5" cy="1446.5" r="4.167"/><circle cx="1546.5" cy="1516.5" r="4.167"/><circle cx="1552.5" cy="1436.5" r="4.167"/><circle cx="1550.5" cy="1456.5" r="4.167"/><circle cx="1560.5" cy="1426.5" r="4.167"/><circle cx="1566.5" cy="1442.5" r="4.167"/><circle cx="1587.5" cy="1412.5" r="4.167"/><circle cx="1591.5" cy="1493.5" r="4.167"/><circle cx="1593.5" cy="1501.5" r="4.167"/><circle cx="1589.5" cy="1519.5" r="4.167"/><circle cx="1610.5" cy="1461.5" r="4.167"/><circle cx="1613.5" cy="1463.5" r="4.167"/></g>
</g>
<path d="M289.5 1602.50V1607.50M520.5 1602.50V1607.50M752.5 1602.50V1607.50M984.5 1602.50V1607.50M1215.5 1602.50V1607.50M1447.5 1602.50V1607.50M225.50 1400.5H220.50M225.50 1469.5H220.50M225.50 1538.5H220.50" stroke="#000000" stroke-width="1.111" fill="none"/>
<path d="M225.5 1334.95V1603.05M1620.5 1334.95V1603.05M224.95 1335.5H1621.05M224.95 1602.5H1621.05" stroke="#000000" stroke-width="1.111" fill="none"/>
<path d="M221.00 1399.5H225.00M221.00 1401.5H225.00M221.00 1468.5H225.00M221.00 1470.5H225.00M221.00 1537.5H225.00M221.00 1539.5H225.00M225.00 1334.5H1621.00M226.00 1336.5H1620.00M226.00 1601.5H1620.00M225.00 1603.5H1621.00" stroke="#000000" stroke-opacity="0.056" stroke-width="1" fill="none"/>
<text x="288.93" y="1638.16" font-family="'DejaVu Sans', 'Liberation Sans', sans-serif" font-size="33.3333px" text-anchor="middle" fill="#000000">2.4584</text>
<text x="519.67" y="1638.18" font-family="'DejaVu Sans', 'Liberation Sans', sans-serif" font-size="33.3333px" text-anchor="middle" fill="#000000">2.4586</text>
<text x="751.86" y="1638.15" font-family="'DejaVu Sans', 'Liberation Sans', sans-serif" font-size="33.3333px" text-anchor="middle" fill="#000000">2.4588</text>
<text x="982.62" y="1638.18" font-family="'DejaVu Sans', 'Liberation Sans', sans-serif" font-size="33.3333px" text-anchor="middle" fill="#000000">2.4590</text>
<text x="1214.78" y="1638.06" font-family="'DejaVu Sans', 'Liberation Sans', sans-serif" font-size="33.3333px" text-anchor="middle" fill="#000000">2.4592</text>
<text x="1446.83" y="1637.50" font-family="'DejaVu Sans', 'Liberation Sans', sans-serif" font-size="33.3333px" text-anchor="middle" fill="#000000">2.4594</text>
<text x="214.87" y="1412.66" font-family="'DejaVu Sans', 'Liberation Sans', sans-serif" font-size="33.3333px" text-anchor="end" fill="#000000">0.25</text>
<text x="214.79" y="1481.72" font-family="'DejaVu Sans', 'Liberation Sans', sans-serif" font-size="33.3333px" text-anchor="end" fill="#000000">0.00</text>
<text x="214.31" y="1550.68" font-family="'DejaVu Sans', 'Liberation Sans', sans-serif" font-size="33.3333px" text-anchor="end" fill="#000000">−0.25</text>
<text x="922.02" y="1675.97" font-family="'DejaVu Sans', 'Liberation Sans', sans-serif" font-size="33.3333px" text-anchor="middle" fill="#000000">Julian Date</text>
<text x="102.03" y="1473.35" font-family="'DejaVu Sans', 'Liberation Sans', sans-serif" font-size="33.3333px" text-anchor="middle" fill="#000000" transform="rotate(-90 102.03 1473.35)">Residuals</text>
<text x="1620.00" y="1674.66" font-family="'DejaVu Sans', 'Liberation Sans', sans-serif" font-size="33.3333px" text-anchor="end" fill="#000000">1e6</text>
</svg>
</body>
</html>
